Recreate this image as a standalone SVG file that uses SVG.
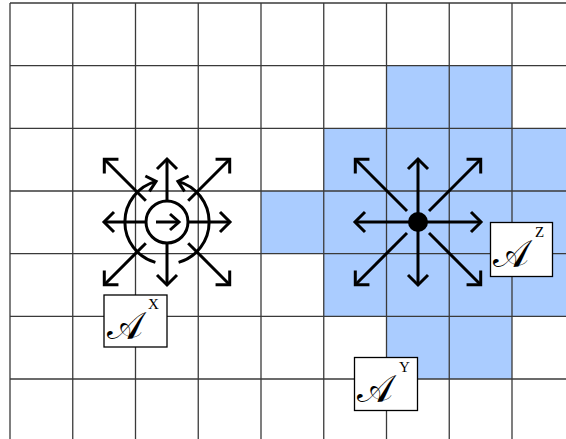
<svg xmlns="http://www.w3.org/2000/svg" width="566" height="439" viewBox="0 0 566 439">
<defs>
<style>
.grid line{stroke:#3a3a3a;stroke-width:1.3}
.cell{fill:#aaccff}
.arr{stroke:#000;stroke-width:3;fill:none}
.lbl{fill:#fff;stroke:#000;stroke-width:1.3}
.cal{font-family:"DejaVu Serif",serif;font-size:38px}
.sup{font-family:"Liberation Serif",serif;font-size:15px}
</style>
<marker id="ah" markerUnits="userSpaceOnUse" markerWidth="30" markerHeight="30" viewBox="-15 -15 30 30" refX="0" refY="0" orient="auto">
<path d="M-10,-10 L0,0 L-10,10" fill="none" stroke="#000" stroke-width="3"/>
</marker>
<marker id="ahs" markerUnits="userSpaceOnUse" markerWidth="30" markerHeight="30" viewBox="-15 -15 30 30" refX="0" refY="0" orient="auto">
<path d="M-9,-8 L0,0 L-9,8" fill="none" stroke="#000" stroke-width="3"/>
</marker>
</defs>
<rect width="566" height="439" fill="#fff"/>
<g id="cells">
<rect class="cell" x="386.5" y="65.7" width="125.5" height="62.6"/>
<rect class="cell" x="323.7" y="128.3" width="242.3" height="62.7"/>
<rect class="cell" x="261" y="191" width="305" height="62.7"/>
<rect class="cell" x="323.7" y="253.7" width="242.3" height="62.6"/>
<rect class="cell" x="386.5" y="316.3" width="125.5" height="62.7"/>
</g>
<g class="grid" id="grid">
<line x1="10" y1="3" x2="10" y2="439"/>
<line x1="72.75" y1="3" x2="72.75" y2="439"/>
<line x1="135.5" y1="3" x2="135.5" y2="439"/>
<line x1="198.25" y1="3" x2="198.25" y2="439"/>
<line x1="261" y1="3" x2="261" y2="439"/>
<line x1="323.75" y1="3" x2="323.75" y2="439"/>
<line x1="386.5" y1="3" x2="386.5" y2="439"/>
<line x1="449.25" y1="3" x2="449.25" y2="439"/>
<line x1="512" y1="3" x2="512" y2="439"/>
<line x1="10" y1="3" x2="566" y2="3"/>
<line x1="10" y1="65.67" x2="566" y2="65.67"/>
<line x1="10" y1="128.33" x2="566" y2="128.33"/>
<line x1="10" y1="191" x2="566" y2="191"/>
<line x1="10" y1="253.67" x2="566" y2="253.67"/>
<line x1="10" y1="316.33" x2="566" y2="316.33"/>
<line x1="10" y1="379" x2="566" y2="379"/>
</g>
<g id="nodeX">
<circle class="arr" cx="167" cy="222" r="21"/>
<line class="arr" x1="156" y1="222" x2="179" y2="222" marker-end="url(#ahs)"/>
<path class="arr" d="M155.4,262.4 A42,42 0 0 1 156.1,181.4" marker-end="url(#ahs)"/>
<path class="arr" d="M178.6,262.4 A42,42 0 0 0 177.9,181.4" marker-end="url(#ahs)"/>
</g>
<g id="connectors">
<line class="arr" x1="167" y1="201" x2="167" y2="159" marker-end="url(#ah)"/>
<line class="arr" x1="167" y1="243" x2="167" y2="285" marker-end="url(#ah)"/>
<line class="arr" x1="146" y1="222" x2="104" y2="222" marker-end="url(#ah)"/>
<line class="arr" x1="188" y1="222" x2="230" y2="222" marker-end="url(#ah)"/>
<line class="arr" x1="145.8" y1="200.8" x2="104.3" y2="159.3" marker-end="url(#ah)"/>
<line class="arr" x1="188.2" y1="200.8" x2="229.7" y2="159.3" marker-end="url(#ah)"/>
<line class="arr" x1="145.8" y1="243.2" x2="104.3" y2="284.7" marker-end="url(#ah)"/>
<line class="arr" x1="188.2" y1="243.2" x2="229.7" y2="284.7" marker-end="url(#ah)"/>
<line class="arr" x1="418" y1="222" x2="418" y2="159" marker-end="url(#ah)"/>
<line class="arr" x1="418" y1="222" x2="418" y2="285" marker-end="url(#ah)"/>
<line class="arr" x1="418" y1="222" x2="355" y2="222" marker-end="url(#ah)"/>
<line class="arr" x1="418" y1="222" x2="481" y2="222" marker-end="url(#ah)"/>
<line class="arr" x1="407" y1="211" x2="355.3" y2="159.3" marker-end="url(#ah)"/>
<line class="arr" x1="429" y1="211" x2="480.7" y2="159.3" marker-end="url(#ah)"/>
<line class="arr" x1="407" y1="233" x2="355.3" y2="284.7" marker-end="url(#ah)"/>
<line class="arr" x1="429" y1="233" x2="480.7" y2="284.7" marker-end="url(#ah)"/>
</g>
<g id="nodeDot">
<circle cx="418" cy="222" r="10" fill="#000"/>
</g>
<g id="labelX">
<rect class="lbl" x="104" y="295" width="63" height="52"/>
<text class="cal" x="107" y="339">𝒜</text>
<text class="sup" x="148" y="309">X</text>
</g>
<g id="labelY">
<rect class="lbl" x="354.5" y="357.5" width="63" height="53"/>
<text class="cal" x="357" y="402">𝒜</text>
<text class="sup" x="399" y="372">Y</text>
</g>
<g id="labelZ">
<rect class="lbl" x="490.5" y="222.5" width="62" height="54"/>
<text class="cal" x="493" y="267">𝒜</text>
<text class="sup" x="535" y="237">Z</text>
</g>
</svg>
